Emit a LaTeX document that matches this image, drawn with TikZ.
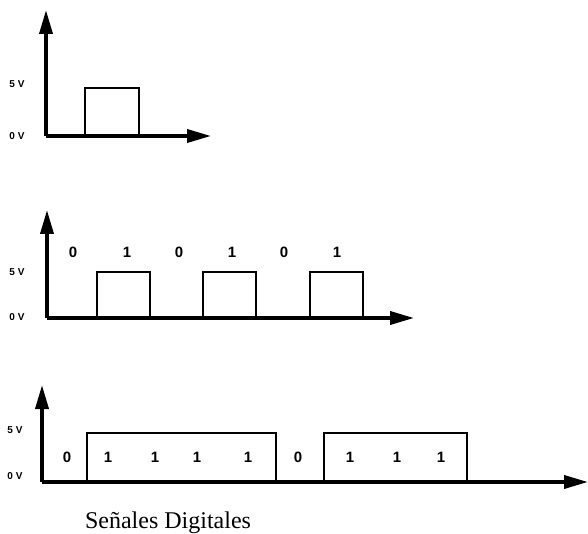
\documentclass[tikz,border=0pt]{standalone}
\usepackage{fontspec}
\setmainfont{Liberation Serif}
\newfontfamily\labfont{Liberation Sans}
\usetikzlibrary{arrows.meta}
\begin{document}
\begin{tikzpicture}[x=1pt,y=-1pt,
  axis/.style={line width=3.6pt,-{Triangle[length=24pt,width=13pt]}},
  pulse/.style={line width=1.4pt},
  vlab/.style={font=\labfont\bfseries\fontsize{10}{10}\selectfont,anchor=center},
  bit/.style={font=\labfont\bfseries\fontsize{15}{15}\selectfont,anchor=center}]
\useasboundingbox (0,0) rectangle (588,534);
% Diagram 1
\draw[axis] (46,136) -- (46,10);
\draw[axis] (46,136) -- (211,136);
\draw[pulse] (85,136) -- (85,88) -- (139,88) -- (139,136);
\node[vlab] (a5) at (17,84) {5 V};
\node[vlab] (a0) at (17,136) {0 V};
% Diagram 2
\draw[axis] (47,318) -- (47,210);
\draw[axis] (47,318) -- (414,318);
\foreach \x in {97,203,310}{
  \draw[pulse] (\x,318) -- (\x,272) -- (\x+53,272) -- (\x+53,318);
}
\node[vlab] (b5) at (17,272) {5 V};
\node[vlab] (b0) at (17,317) {0 V};
\node[bit] (b1) at (73,252) {0};
\node[bit] (b2) at (127,252) {1};
\node[bit] (b3) at (179,252) {0};
\node[bit] (b4) at (232,252) {1};
\node[bit] (b5b) at (284,252) {0};
\node[bit] (b6) at (337,252) {1};
% Diagram 3
\draw[axis] (42,482) -- (42,385);
\draw[axis] (42,482) -- (588,482);
\draw[pulse] (87,482) -- (87,433) -- (276,433) -- (276,482);
\draw[pulse] (324,482) -- (324,433) -- (467,433) -- (467,482);
\node[vlab] (c5) at (15,430) {5 V};
\node[vlab] (c0) at (15,476) {0 V};
\node[bit] (c1) at (67,457) {0};
\node[bit] (c2) at (108,457) {1};
\node[bit] (c3) at (155,457) {1};
\node[bit] (c4) at (197,457) {1};
\node[bit] (c5b) at (248,457) {1};
\node[bit] (c6) at (298,457) {0};
\node[bit] (c7) at (350,457) {1};
\node[bit] (c8) at (397,457) {1};
\node[bit] (c9) at (441,457) {1};
\node[font=\fontsize{24}{24}\selectfont,anchor=center] (cap) at (168,523) {Señales Digitales};
\end{tikzpicture}
\end{document}
